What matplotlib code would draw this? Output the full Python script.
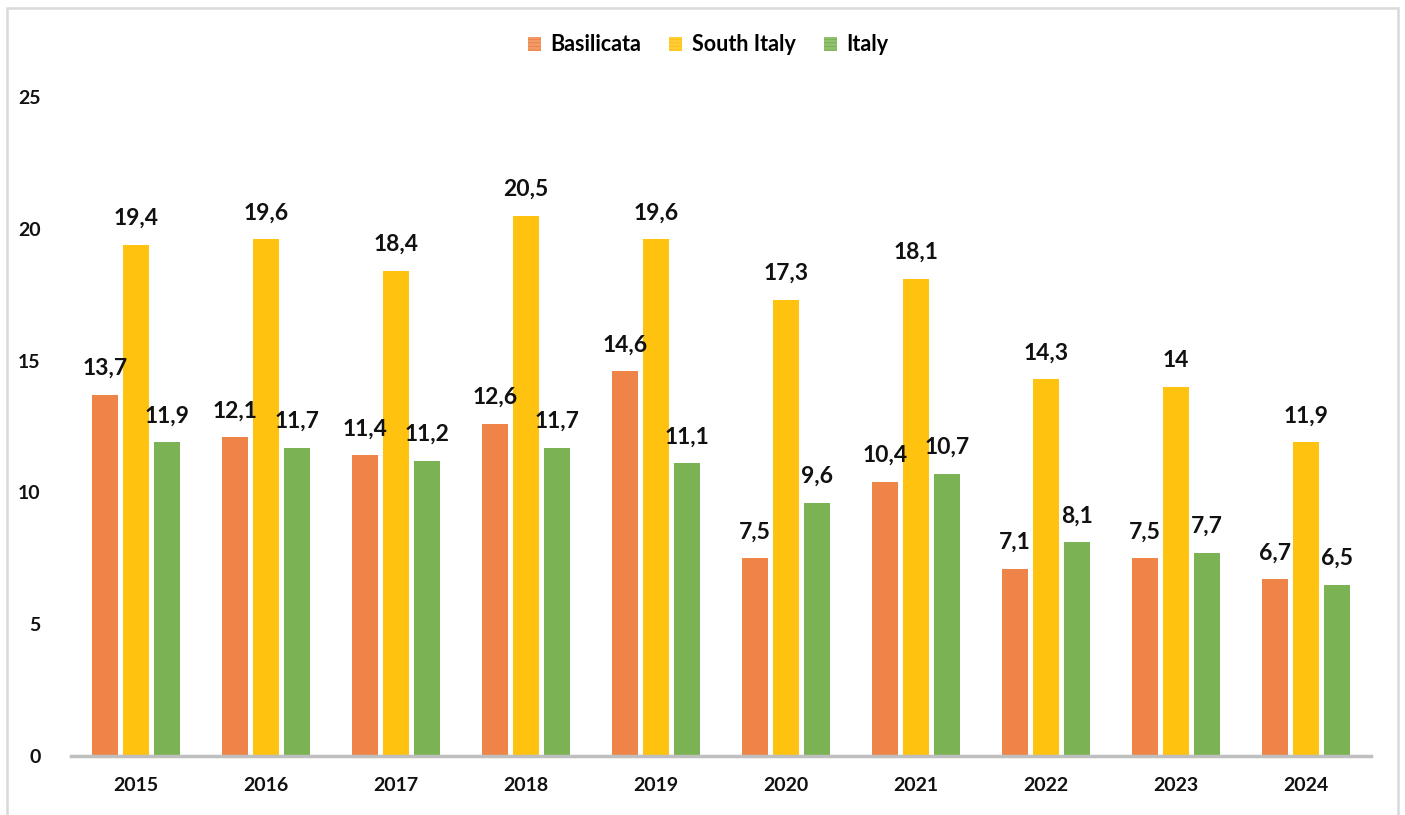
import matplotlib.pyplot as plt
import matplotlib.patches as mpatches
import numpy as np

# yearly values per area
years = ['2015', '2016', '2017', '2018', '2019', '2020', '2021', '2022', '2023', '2024']
basilicata = [13.7, 12.1, 11.4, 12.6, 14.6, 7.5, 10.4, 7.1, 7.5, 6.7]
south_italy = [19.4, 19.6, 18.4, 20.5, 19.6, 17.3, 18.1, 14.3, 14, 11.9]
italy = [11.9, 11.7, 11.2, 11.7, 11.1, 9.6, 10.7, 8.1, 7.7, 6.5]

plt.rcParams['font.family'] = ['Lato', 'DejaVu Sans']
plt.rcParams['hatch.linewidth'] = 0.8


def fmt(v):
    return ('%g' % v).replace('.', ',')


fig = plt.figure(figsize=(14.05, 8.15), dpi=100)
ax = fig.add_axes([0.0505, 0.0724, 0.9253, 0.8086])

x = np.arange(len(years))
width = 0.195
step = 0.238
stripes = '-' * 30
series = [
    ('Basilicata', basilicata, '#FAD3BA', '#EE8448'),
    ('South Italy', south_italy, '#FFE8A3', '#FFC20E'),
    ('Italy', italy, '#CDE4BD', '#7BB354'),
]

handles = []
for i, (name, vals, light, dark) in enumerate(series):
    pos = x + (i - 1) * step
    bars = ax.bar(pos, vals, width, color=light, edgecolor=dark, linewidth=0,
                  hatch=stripes, label=name, zorder=2)
    for b, v in zip(bars, vals):
        ax.text(b.get_x() + b.get_width() / 2, v + 0.6, fmt(v), ha='center', va='bottom',
                fontsize=16.5, fontweight='bold', color='#111111')
    handles.append(mpatches.Patch(facecolor=light, edgecolor=dark, hatch='-' * 12,
                                  linewidth=0, label=name))

ax.set_xlim(-0.5, len(years) - 0.5)
ax.set_ylim(0, 25)
ax.set_yticks([0, 5, 10, 15, 20, 25])
ax.set_xticks(x)
ax.set_xticklabels(years)
for spine in ['top', 'right', 'left']:
    ax.spines[spine].set_visible(False)
ax.spines['bottom'].set_color('#BFBFBF')
ax.spines['bottom'].set_linewidth(2.5)
ax.tick_params(axis='both', length=0, labelsize=14, labelcolor='#111111')
ax.tick_params(axis='x', pad=15)
ax.tick_params(axis='y', pad=22)
for lbl in ax.get_xticklabels() + ax.get_yticklabels():
    lbl.set_fontweight('bold')

fig.legend(handles=handles, loc='center', bbox_to_anchor=(0.504, 0.945), ncol=3,
           frameon=False, prop={'weight': 'bold', 'size': 15.5},
           handlelength=0.6, handleheight=0.6, handletextpad=0.45, columnspacing=1.3)

# outer chart border
fig.patches.append(mpatches.Rectangle((0.005, -0.01), 0.99, 1.0, transform=fig.transFigure,
                                      fill=False, edgecolor='#D9D9D9', linewidth=1.8))

fig.savefig('out.png', dpi=100)
